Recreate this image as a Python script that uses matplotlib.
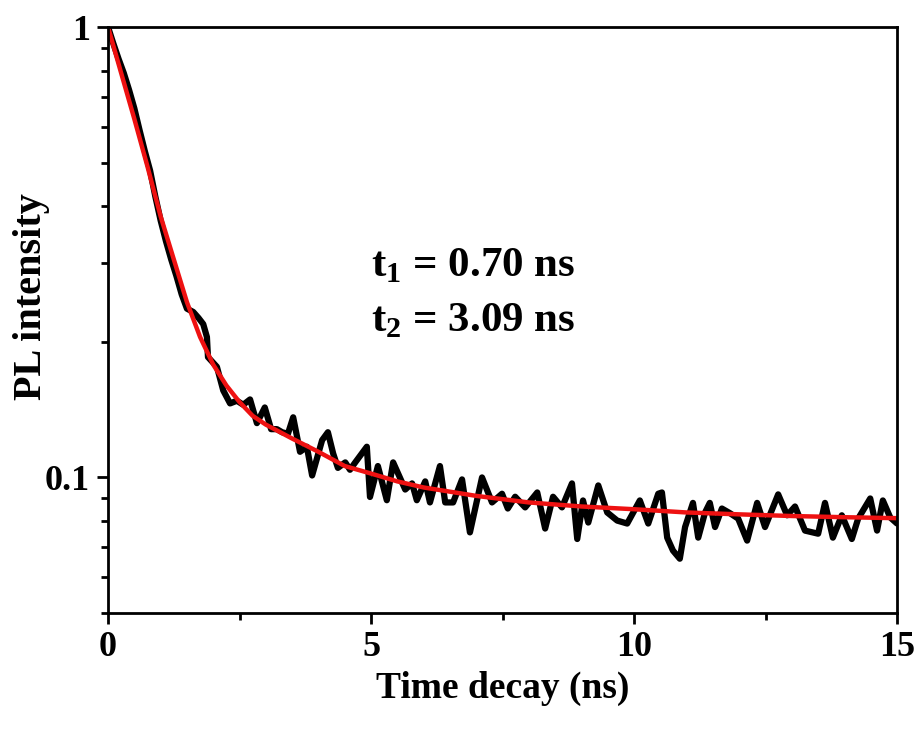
import matplotlib
matplotlib.use("Agg")
import matplotlib.pyplot as plt
import matplotlib.ticker as ticker

plt.rcParams['font.family'] = ['Liberation Serif', 'DejaVu Serif']
plt.rcParams['font.weight'] = 'bold'
plt.rcParams['mathtext.fontset'] = 'custom'
plt.rcParams['mathtext.rm'] = 'Liberation Serif:bold'
plt.rcParams['mathtext.bf'] = 'Liberation Serif:bold'

time_data = [
    0.0, 0.1, 0.2, 0.3, 0.4, 0.5, 0.6, 0.7, 0.8, 0.9, 1.0, 1.1, 1.2, 1.3, 1.4,
    1.5, 1.62, 1.72, 1.81, 1.88, 1.90, 2.07, 2.19, 2.32, 2.45, 2.57, 2.70, 2.83,
    2.98, 3.10, 3.21, 3.31, 3.42, 3.52, 3.65, 3.78, 3.88, 4.07, 4.18, 4.28, 4.37,
    4.51, 4.60, 4.70, 4.92, 4.98, 5.13, 5.30, 5.42, 5.65, 5.78, 5.87, 6.03, 6.12,
    6.31, 6.41, 6.56, 6.73, 6.88, 7.11, 7.30, 7.49, 7.60, 7.74, 7.93, 8.16, 8.31,
    8.46, 8.63, 8.82, 8.92, 9.03, 9.13, 9.32, 9.49, 9.68, 9.87, 10.11, 10.27,
    10.46, 10.53, 10.63, 10.74, 10.87, 10.97, 11.12, 11.22, 11.35, 11.44, 11.54,
    11.67, 11.83, 11.98, 12.15, 12.34, 12.49, 12.74, 12.91, 13.06, 13.25, 13.50,
    13.63, 13.78, 13.95, 14.14, 14.26, 14.49, 14.62, 14.73, 14.87, 15.0,
]
intensity_data = [
    1.00, 0.92, 0.85, 0.79, 0.725, 0.66, 0.59, 0.53, 0.48, 0.42, 0.372, 0.335,
    0.305, 0.28, 0.255, 0.237, 0.233, 0.226, 0.219, 0.205, 0.185, 0.176, 0.156,
    0.146, 0.148, 0.145, 0.149, 0.132, 0.143, 0.128, 0.128, 0.126, 0.125, 0.136,
    0.114, 0.117, 0.101, 0.121, 0.126, 0.113, 0.105, 0.108, 0.104, 0.108, 0.117,
    0.0905, 0.106, 0.089, 0.108, 0.094, 0.097, 0.089, 0.098, 0.088, 0.106,
    0.088, 0.088, 0.099, 0.0755, 0.100, 0.088, 0.092, 0.0853, 0.0906, 0.0858,
    0.0926, 0.077, 0.0906, 0.0858, 0.097, 0.073, 0.0889, 0.0794, 0.096, 0.0836,
    0.0802, 0.079, 0.0889, 0.079, 0.092, 0.0926, 0.0735, 0.0688, 0.066, 0.0776,
    0.0878, 0.0735, 0.0836, 0.0878, 0.0776, 0.0853, 0.0832, 0.081, 0.0724,
    0.0878, 0.0776, 0.0917, 0.0824, 0.0862, 0.0762, 0.075, 0.0878, 0.0735,
    0.0824, 0.073, 0.081, 0.0898, 0.0762, 0.0889, 0.0815, 0.079,
]

# fitted curve
time_fit = [0.0, 0.25, 0.5, 0.75, 1.0, 1.25, 1.5, 1.75, 2.0, 2.25, 2.5, 2.75,
            3.0, 3.5, 4.0, 4.5, 5.0, 5.5, 6.0, 7.0, 8.0, 9.0, 10.0, 11.0, 12.0,
            13.0, 14.0, 15.0]
intensity_fit = [1.00, 0.79, 0.625, 0.49, 0.38, 0.305, 0.245, 0.205, 0.178,
                 0.16, 0.147, 0.137, 0.131, 0.122, 0.114, 0.106, 0.102, 0.098,
                 0.095, 0.091, 0.088, 0.0862, 0.085, 0.0836, 0.0828, 0.0821,
                 0.0816, 0.0812]

lifetimes = [r'$\mathbf{t}_{\mathbf{1}}$ = 0.70 ns', r'$\mathbf{t}_{\mathbf{2}}$ = 3.09 ns']

fig = plt.figure(figsize=(9.21, 7.31), dpi=100)
ax = fig.add_axes([0.1173, 0.1614, 0.8567, 0.8016])

ax.plot(time_data, intensity_data, color='black', linewidth=4.5,
        solid_joinstyle='round', solid_capstyle='round')
ax.plot(time_fit, intensity_fit, color='#ee1111', linewidth=3.2)

ax.set_yscale('log')
ax.set_xlim(0, 15)
ax.set_ylim(0.05, 1)

ax.xaxis.set_major_locator(ticker.MultipleLocator(5))
ax.xaxis.set_minor_locator(ticker.MultipleLocator(2.5))
ax.yaxis.set_major_locator(ticker.FixedLocator([0.1, 1]))
ax.yaxis.set_major_formatter(ticker.FixedFormatter(['0.1', '1']))
ax.yaxis.set_minor_locator(ticker.LogLocator(base=10, subs=range(2, 10)))
ax.yaxis.set_minor_formatter(ticker.NullFormatter())

ax.tick_params(which='major', direction='out', length=8, width=2, labelsize=26, pad=5)
ax.tick_params(which='minor', direction='out', length=5, width=2)
ax.tick_params(top=False, right=False)
for spine in ax.spines.values():
    spine.set_linewidth(2)

ax.set_xlabel('Time decay (ns)', fontsize=27, fontweight='bold', labelpad=5)
ax.set_ylabel('PL intensity', fontsize=29, fontweight='bold')
ax.yaxis.set_label_coords(-0.074, 0.54)

ax.text(5.0, 0.296, lifetimes[0], fontsize=31, va='center', ha='left')
ax.text(5.0, 0.223, lifetimes[1], fontsize=31, va='center', ha='left')

fig.savefig('out.png', dpi=100)
